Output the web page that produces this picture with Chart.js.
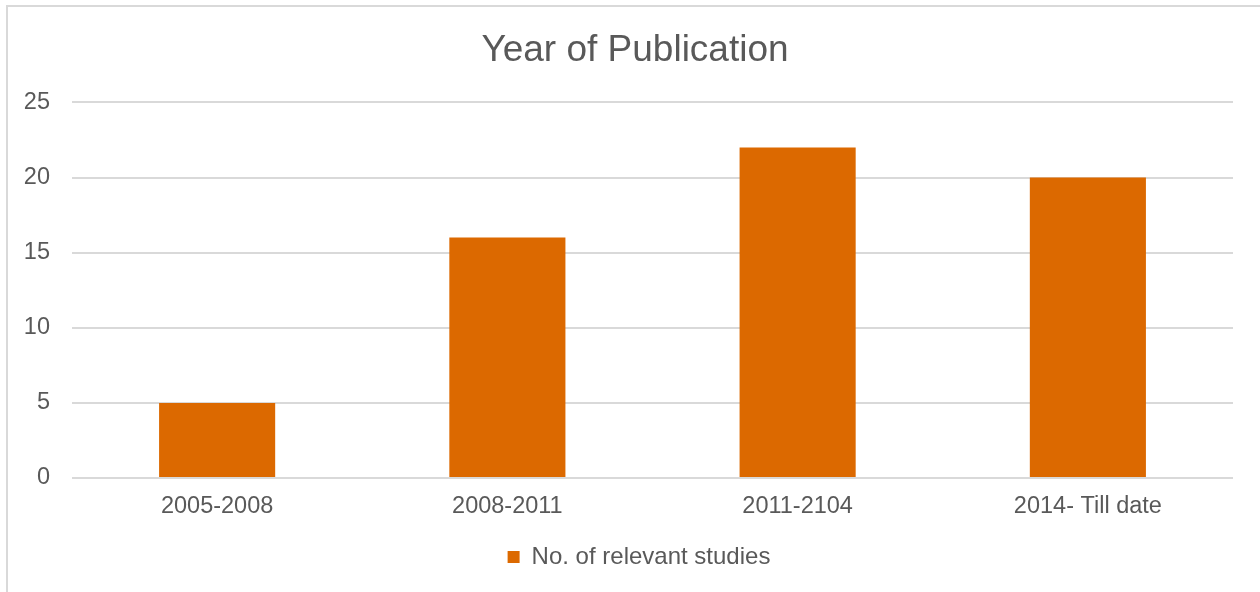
<!DOCTYPE html>
<html>
<head>
<meta charset="utf-8">
<script src="https://cdn.jsdelivr.net/npm/chart.js@4"></script>
<style>
  html, body { margin: 0; padding: 0; background: #fff; }
  #wrap { position: relative; width: 1260px; height: 592px; }
  #frame { position: absolute; left: 6px; top: 5px; right: -4px; bottom: -4px;
           border-left: 2px solid #d9d9d9; border-top: 2px solid #d9d9d9; }
  canvas { position: absolute; left: 0; top: 0; }
</style>
</head>
<body>
<div id="wrap">
  <div id="frame"></div>
  <canvas id="yearChart" width="1260" height="592"></canvas>
</div>
<script>
const categories = ['2005-2008', '2008-2011', '2011-2104', '2014- Till date'];
const studyCounts = [5, 16, 22, 20];
const seriesName = 'No. of relevant studies';
const chartTitle = 'Year of Publication';

document.addEventListener("DOMContentLoaded", function () {
    const textColor = '#595959';
    const font = 'Liberation Sans, Arial, sans-serif';

    // nudge title and legend so they are centred like the original
    const centreShift = {
        id: 'centreShift',
        afterLayout(chart) {
            chart.legend.left = 45;
            chart.titleBlock.left = 37;
        }
    };

    new Chart(document.getElementById('yearChart'), {
        type: 'bar',
        data: {
            labels: categories,
            datasets: [{
                label: seriesName,
                data: studyCounts,
                backgroundColor: '#dc6900',
                borderWidth: 0,
                barPercentage: 0.4,
                categoryPercentage: 1
            }]
        },
        options: {
            responsive: false,
            animation: false,
            layout: { padding: { left: 0, right: 27, top: 0, bottom: 13 } },
            plugins: {
                title: {
                    display: true,
                    text: chartTitle,
                    color: textColor,
                    font: { family: font, size: 37, weight: 'normal' },
                    padding: { top: 29, bottom: 29 }
                },
                legend: {
                    display: true,
                    position: 'bottom',
                    labels: {
                        color: textColor,
                        font: { family: font, size: 24 },
                        boxWidth: 12,
                        boxHeight: 12,
                        padding: 6
                    }
                },
                tooltip: { enabled: false }
            },
            scales: {
                x: {
                    grid: { display: false },
                    border: { display: false },
                    ticks: {
                        color: textColor,
                        font: { family: font, size: 23.5 },
                        padding: 6
                    },
                    afterFit: function (scale) { scale.height = 61; }
                },
                y: {
                    min: 0,
                    max: 25,
                    ticks: {
                        stepSize: 5,
                        color: textColor,
                        font: { family: font, size: 23.5 },
                        padding: 22
                    },
                    grid: { color: '#d9d9d9', lineWidth: 2, drawTicks: false },
                    border: { display: false },
                    afterFit: function (scale) { scale.width = 72; }
                }
            }
        },
        plugins: [centreShift]
    });
});
</script>
</body>
</html>
